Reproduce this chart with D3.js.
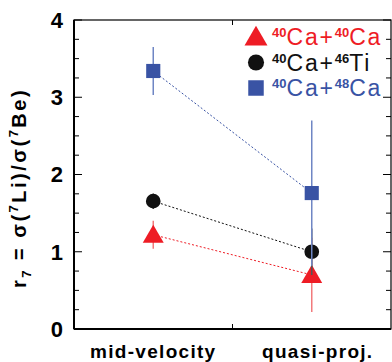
<!DOCTYPE html>
<html>
<head>
<meta charset="utf-8">
<script src="https://cdn.jsdelivr.net/npm/d3@7"></script>
<style>
  body { margin: 0; background: #fff; }
  text { font-family: "Liberation Sans", Arial, sans-serif; }
</style>
</head>
<body>
<div id="chart"></div>
<script>
// categories along x (placed at 1 and 3 on a 0..4 scale)
const categories = ["mid-velocity", "quasi-proj."];
const catPos = [1, 3];
const yTicks = [0, 1, 2, 3, 4];

const series = [
  { name: "Ca40Ca40", label: ["40", "Ca+", "40", "Ca"], color: "#ee1c25", errColor: "#f27a7c", symbol: d3.symbolTriangle, size: 190,
    values: [1.22, 0.70], errors: [0.18, 0.48] },
  { name: "Ca40Ti46", label: ["40", "Ca+", "46", "Ti"], color: "#111111", errColor: "#555555", symbol: d3.symbolCircle, size: 170,
    values: [1.655, 1.00], errors: [0.10, 0.30] },
  { name: "Ca40Ca48", label: ["40", "Ca+", "48", "Ca"], color: "#3953a4", errColor: "#6f86c4", symbol: d3.symbolSquare, size: 200,
    values: [3.34, 1.76], errors: [0.31, 0.94] }
];

const W = 392, H = 362;
const margin = { left: 74, top: 20, right: 1, bottom: 33 };
const w = W - margin.left - margin.right;
const h = H - margin.top - margin.bottom;

const svg = d3.select("#chart").append("svg")
  .attr("width", W).attr("height", H);

const g = svg.append("g").attr("transform", `translate(${margin.left},${margin.top})`);

const x = d3.scaleLinear().domain([0, 4]).range([0, w]);
const y = d3.scaleLinear().domain([0, 4]).range([h, 0]);

// minor ticks on left and right
const minor = d3.range(0, 4.001, 0.25);
g.selectAll(".tl").data(minor).enter().append("line")
  .attr("x1", 0).attr("x2", d => d % 1 === 0 ? 8 : 5)
  .attr("y1", d => y(d)).attr("y2", d => y(d))
  .attr("stroke", "#000").attr("stroke-width", 1);
g.selectAll(".tr").data(minor).enter().append("line")
  .attr("x1", w).attr("x2", d => w - (d % 1 === 0 ? 8 : 5))
  .attr("y1", d => y(d)).attr("y2", d => y(d))
  .attr("stroke", "#000").attr("stroke-width", 1);
// x middle tick on top and bottom
[2].forEach(v => {
  g.append("line").attr("x1", x(v)).attr("x2", x(v)).attr("y1", h).attr("y2", h - 5).attr("stroke", "#000");
  g.append("line").attr("x1", x(v)).attr("x2", x(v)).attr("y1", 0).attr("y2", 5).attr("stroke", "#000");
});

// frame
g.append("rect").attr("x", 0).attr("y", 0).attr("width", w).attr("height", h)
  .attr("fill", "none").attr("stroke", "#000").attr("stroke-width", 1.2);
g.append("line").attr("x1", 0).attr("x2", 0).attr("y1", 0).attr("y2", h).attr("stroke", "#000").attr("stroke-width", 2);
g.append("line").attr("x1", 0).attr("x2", w).attr("y1", h).attr("y2", h).attr("stroke", "#000").attr("stroke-width", 2);

// y tick labels
g.selectAll(".yl").data(yTicks).enter().append("text")
  .attr("x", -11).attr("y", d => y(d))
  .attr("dy", "0.36em")
  .attr("text-anchor", "end")
  .attr("font-size", 22).attr("font-weight", "bold")
  .text(d => d);

// x category labels
g.selectAll(".xl").data(categories).enter().append("text")
  .attr("x", (d, i) => x(catPos[i]) + (i === 1 ? 6 : 0)).attr("y", h + 29)
  .attr("text-anchor", "middle")
  .attr("font-size", 19).attr("font-weight", "bold")
  .attr("letter-spacing", 1.3)
  .text(d => d);

// y label
const yl = svg.append("text")
  .attr("transform", "translate(26,188) rotate(-90)")
  .attr("text-anchor", "middle")
  .attr("font-size", 20).attr("font-weight", "bold")
  .attr("letter-spacing", 2.5);
yl.append("tspan").text("r");
yl.append("tspan").attr("font-size", 13).attr("dy", 5).text("7");
yl.append("tspan").attr("dy", -5).text(" = σ(");
yl.append("tspan").attr("font-size", 13).attr("dy", -8).text("7");
yl.append("tspan").attr("dy", 8).text("Li)/σ(");
yl.append("tspan").attr("font-size", 13).attr("dy", -8).text("7");
yl.append("tspan").attr("dy", 8).text("Be)");

// data
series.forEach(s => {
  const pts = s.values.map((v, i) => ({ x: catPos[i], y: v, e: s.errors[i] }));
  g.append("path").datum(pts)
    .attr("d", d3.line().x(d => x(d.x)).y(d => y(d.y)))
    .attr("fill", "none").attr("stroke", s.color).attr("stroke-width", 1)
    .attr("stroke-dasharray", "2,2");
  g.selectAll(null).data(pts).enter().append("line")
    .attr("x1", d => x(d.x)).attr("x2", d => x(d.x))
    .attr("y1", d => y(d.y - d.e)).attr("y2", d => y(d.y + d.e))
    .attr("stroke", s.errColor).attr("stroke-width", 1.5);
  g.selectAll(null).data(pts).enter().append("path")
    .attr("d", d3.symbol().type(s.symbol).size(s.size))
    .attr("transform", d => `translate(${x(d.x)},${y(d.y) + (s.symbol === d3.symbolTriangle ? 2 : 0)})`)
    .attr("fill", s.color);
});

// legend
const leg = svg.append("g").attr("transform", "translate(256,37)");
series.forEach((s, i) => {
  const row = leg.append("g").attr("transform", `translate(0,${i * 25.5})`);
  row.append("path").attr("d", d3.symbol().type(s.symbol).size(s.size * 1.2))
    .attr("transform", `translate(0,${s.symbol === d3.symbolTriangle ? 2 : 0})`)
    .attr("fill", s.color);
  const t = row.append("text").attr("x", 16).attr("y", 8)
    .attr("font-size", 23).attr("fill", s.color)
    .attr("letter-spacing", 1.8);
  t.append("tspan").attr("font-size", 13).attr("font-weight", "bold").attr("dy", -8).attr("letter-spacing", 0).text(s.label[0]);
  t.append("tspan").attr("dy", 8).text(s.label[1]);
  t.append("tspan").attr("font-size", 13).attr("font-weight", "bold").attr("dy", -8).attr("letter-spacing", 0).text(s.label[2]);
  t.append("tspan").attr("dy", 8).text(s.label[3]);
});
</script>
</body>
</html>
